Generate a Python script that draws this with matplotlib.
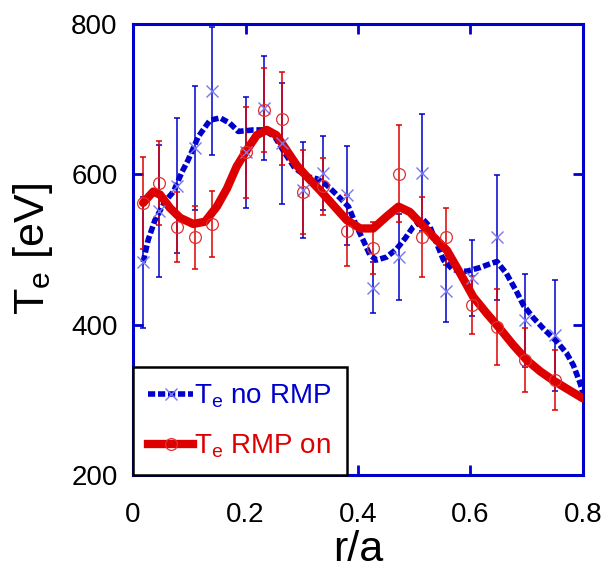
import matplotlib.pyplot as plt
from matplotlib.lines import Line2D

plt.rcParams['font.family'] = ['Liberation Sans', 'DejaVu Sans']
plt.rcParams['mathtext.default'] = 'regular'

# measured points (no RMP) with error bars
r_norm = [0.018, 0.047, 0.078, 0.110, 0.140, 0.201, 0.232, 0.264, 0.303, 0.337,
          0.381, 0.427, 0.473, 0.514, 0.556, 0.602, 0.648, 0.697, 0.750]
te_norm = [483, 551, 585, 635, 711, 629, 688, 641, 579, 602,
           572, 449, 490, 602, 445, 462, 516, 406, 386]
err_norm = [87, 88, 90, 82, 85, 74, 69, 80, 64, 49,
            66, 34, 57, 78, 42, 50, 83, 62, 74]

# measured points (RMP on)
r_rmp = [0.018, 0.047, 0.078, 0.110, 0.140, 0.201, 0.232, 0.264, 0.303, 0.337,
         0.381, 0.427, 0.473, 0.514, 0.556, 0.602, 0.648, 0.697, 0.750]
te_rmp = [562, 588, 530, 516, 534, 629, 686, 674, 576, 584,
          525, 502, 601, 517, 517, 426, 397, 353, 326]
err_rmp = [61, 56, 47, 42, 44, 60, 56, 62, 56, 38,
           47, 35, 65, 53, 38, 39, 50, 43, 40]

# smoothed profile curves
fit_norm_r = [0.018, 0.027, 0.039, 0.057, 0.072, 0.087, 0.098, 0.116, 0.137, 0.155,
              0.172, 0.187, 0.214, 0.232, 0.252, 0.270, 0.288, 0.309, 0.327, 0.344,
              0.362, 0.383, 0.398, 0.412, 0.421, 0.433, 0.451, 0.469, 0.484, 0.498,
              0.516, 0.528, 0.540, 0.552, 0.569, 0.593, 0.617, 0.635, 0.647, 0.664,
              0.682, 0.694, 0.712, 0.732, 0.753, 0.771, 0.783, 0.795, 0.801]
fit_norm_te = [483, 513, 539, 564, 577, 603, 619, 650, 672, 675,
               668, 657, 659, 659, 650, 628, 608, 597, 594, 586,
               573, 557, 530, 508, 493, 486, 490, 501, 515, 530,
               540, 530, 508, 486, 473, 471, 476, 481, 484, 468,
               444, 426, 409, 393, 378, 362, 346, 322, 306]

fit_rmp_r = [0.018, 0.036, 0.048, 0.066, 0.084, 0.107, 0.128, 0.149, 0.167, 0.184,
             0.202, 0.220, 0.238, 0.255, 0.273, 0.291, 0.309, 0.332, 0.356, 0.380,
             0.404, 0.427, 0.451, 0.472, 0.492, 0.510, 0.534, 0.558, 0.582, 0.605,
             0.629, 0.652, 0.676, 0.700, 0.724, 0.747, 0.771, 0.800]
fit_rmp_te = [562, 577, 573, 555, 542, 534, 537, 557, 581, 610,
              632, 652, 659, 652, 632, 612, 597, 579, 559, 539,
              528, 528, 544, 557, 550, 536, 517, 499, 468, 437,
              415, 395, 373, 353, 338, 326, 315, 302]

blue = '#0000cc'
red = '#dd0000'

fig = plt.figure(figsize=(6.06, 5.69), dpi=100)
ax = fig.add_axes([0.2195, 0.165, 0.7425, 0.793])

ax.errorbar(r_norm, te_norm, yerr=err_norm, fmt='none', ecolor=blue,
            elinewidth=1.1, capsize=2.5, capthick=1.1, zorder=2)
ax.errorbar(r_rmp, te_rmp, yerr=err_rmp, fmt='none', ecolor=red,
            elinewidth=1.1, capsize=2.5, capthick=1.1, zorder=2)

ax.plot(fit_norm_r, fit_norm_te, color=blue, lw=4, ls=(0, (1.3, 0.5)),
        dash_capstyle='butt', zorder=3)
ax.plot(fit_rmp_r, fit_rmp_te, color=red, lw=6, solid_joinstyle='round',
        solid_capstyle='round', zorder=4)

ax.plot(r_norm, te_norm, 'x', color='#7777ee', ms=8.5, mew=1.0, zorder=5)
ax.plot(r_rmp, te_rmp, 'o', mfc='none', mec='#e03030', ms=8.5, mew=0.9, zorder=5)

ax.set_xlim(0, 0.8)
ax.set_ylim(200, 800)
ax.set_xticks([0, 0.2, 0.4, 0.6, 0.8])
ax.set_xticklabels(['0', '0.2', '0.4', '0.6', '0.8'])
ax.set_yticks([200, 400, 600, 800])
for s in ax.spines.values():
    s.set_color(blue)
    s.set_linewidth(2.2)
ax.tick_params(direction='in', length=7, width=2, color=blue, labelsize=20,
               top=True, right=True)
ax.tick_params(axis='x', pad=19)
ax.tick_params(axis='y', pad=11)

ax.set_xlabel('r/a', fontsize=31, labelpad=2)
ax.set_ylabel('T$_e$ [eV]', fontsize=31, labelpad=12)

handles = [
    Line2D([], [], color=blue, lw=4, ls=(0, (1.3, 0.5)), marker='x',
           mec='#7777ee', ms=8.5, mew=1.0),
    Line2D([], [], color=red, lw=6, marker='o', mfc='none', mec='#e03030',
           ms=8.5, mew=0.9),
]
leg = ax.legend(handles, ['T$_e$ no RMP', 'T$_e$ RMP on'], loc='lower left',
                fontsize=20, frameon=True, fancybox=False, edgecolor='black',
                framealpha=1, borderaxespad=0, handlelength=1.6,
                handletextpad=0.05, borderpad=0.55, labelspacing=0.8)
leg.get_frame().set_linewidth(1.8)
leg.set_zorder(10)
for txt, c in zip(leg.get_texts(), [blue, red]):
    txt.set_color(c)

fig.savefig('out.png', dpi=100)
